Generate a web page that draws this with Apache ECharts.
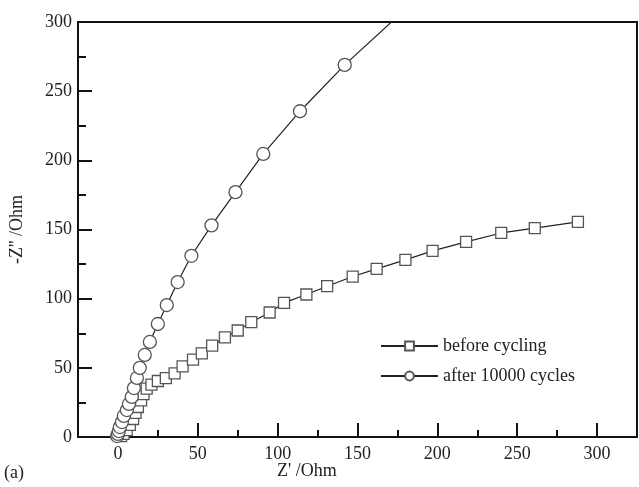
<!DOCTYPE html>
<html>
<head>
<meta charset="utf-8">
<script src="https://cdn.jsdelivr.net/npm/echarts@6/dist/echarts.min.js"></script>
<style>
  html, body { margin: 0; padding: 0; background: #fff; }
  #chart { width: 639px; height: 487px; }
</style>
</head>
<body>
<div id="chart"></div>
<script>
// before cycling (squares)
const beforeRe = [2, 3.5, 5.5, 7.5, 9.5, 11, 12.5, 14.5, 16, 18, 21, 25, 30, 35.5, 40.5, 47, 52.5, 59, 67, 75, 83.5, 95, 104, 118, 131, 147, 162, 180, 197, 218, 240, 261, 288]
const beforeIm = [0.7, 2.2, 5, 8.7, 13, 17.4, 21.7, 26.5, 31, 35, 37.8, 40.5, 42.5, 46, 51, 56, 60.5, 66, 72, 77, 83, 90, 97, 103, 109, 116, 121.5, 128, 134.5, 141, 147.5, 151, 155.5]

// after 10000 cycles (circles)
const afterRe = [-0.5, 0, 0.6, 1.2, 2.5, 3.7, 5.6, 6.9, 8.7, 10, 11.9, 13.7, 16.8, 20, 25, 30.6, 37.4, 46, 58.6, 73.6, 91, 114, 142, 176]
const afterIm = [0.7, 2.2, 4.3, 7.2, 10.8, 15.2, 19.5, 23.9, 29, 35.4, 42.7, 50, 59.3, 68.7, 81.7, 95.4, 112, 131, 153, 177, 204.6, 235.5, 269, 305]

const xMajor = [0, 50, 100, 150, 200, 250, 300]
const xMinor = [25, 75, 125, 175, 225, 275]
const yMajor = [0, 50, 100, 150, 200, 250, 300]
const yMinor = [25, 75, 125, 175, 225, 275]

const seriesNames = ['before cycling', 'after 10000 cycles']

const FONT = '"Liberation Serif", "DejaVu Serif", serif'
const pairs = (a, b) => a.map((v, i) => [v, b[i]])

const chart = echarts.init(document.getElementById('chart'))

const xBase = { type: 'value', min: -25, max: 325, gridIndex: 0, splitLine: { show: false } }
const yBase = { type: 'value', min: 0, max: 300, gridIndex: 0, splitLine: { show: false } }
const frameLine = { show: true, onZero: false, lineStyle: { color: '#111', width: 2 } }

chart.setOption({
  animation: false,
  backgroundColor: '#fff',
  grid: { left: 78, right: 2, top: 22, bottom: 50, outerBoundsMode: 'none' },
  legend: {
    orient: 'vertical',
    left: 375,
    top: 332,
    itemWidth: 57,
    itemHeight: 11,
    itemGap: 12,
    textStyle: { fontFamily: FONT, fontSize: 18, color: '#222' },
    data: seriesNames
  },
  xAxis: [
    Object.assign({}, xBase, {
      position: 'bottom',
      axisLine: frameLine,
      axisTick: { show: true, inside: true, length: 14, lineStyle: { color: '#111', width: 2 }, customValues: xMajor },
      axisLabel: { show: true, customValues: xMajor, margin: 8, fontFamily: FONT, fontSize: 18, color: '#222' }
    }),
    Object.assign({}, xBase, {
      position: 'bottom',
      axisLine: { show: false, onZero: false },
      axisTick: { show: true, inside: true, length: 7, lineStyle: { color: '#111', width: 2 }, customValues: xMinor },
      axisLabel: { show: false }
    }),
    Object.assign({}, xBase, {
      position: 'top',
      axisLine: frameLine,
      axisTick: { show: false },
      axisLabel: { show: false }
    })
  ],
  yAxis: [
    Object.assign({}, yBase, {
      position: 'left',
      name: '-Z\'\' /Ohm',
      nameLocation: 'middle',
      nameGap: 52,
      nameTextStyle: { fontFamily: FONT, fontSize: 18, color: '#222' },
      axisLine: frameLine,
      axisTick: { show: true, inside: true, length: 14, lineStyle: { color: '#111', width: 2 }, customValues: yMajor },
      axisLabel: { show: true, customValues: yMajor, margin: 6, fontFamily: FONT, fontSize: 18, color: '#222' }
    }),
    Object.assign({}, yBase, {
      position: 'left',
      axisLine: { show: false, onZero: false },
      axisTick: { show: true, inside: true, length: 8, lineStyle: { color: '#111', width: 2 }, customValues: yMinor },
      axisLabel: { show: false }
    }),
    Object.assign({}, yBase, {
      position: 'right',
      axisLine: frameLine,
      axisTick: { show: false },
      axisLabel: { show: false }
    })
  ],
  graphic: [
    { type: 'text', left: 277, top: 462, style: { text: 'Z\' /Ohm', font: '18px ' + FONT, fill: '#222' } },
    { type: 'text', left: 4, top: 464, style: { text: '(a)', font: '18px ' + FONT, fill: '#222' } }
  ],
  series: [
    {
      name: seriesNames[0],
      type: 'line',
      xAxisIndex: 0,
      yAxisIndex: 0,
      data: pairs(beforeRe, beforeIm),
      symbol: 'rect',
      symbolSize: 11,
      showAllSymbol: true,
      clip: true,
      lineStyle: { color: '#222', width: 1.2 },
      itemStyle: { color: '#fff', borderColor: '#555', borderWidth: 1.3 }
    },
    {
      name: seriesNames[1],
      type: 'line',
      xAxisIndex: 0,
      yAxisIndex: 0,
      data: pairs(afterRe, afterIm),
      symbol: 'circle',
      symbolSize: 13,
      showAllSymbol: true,
      clip: true,
      lineStyle: { color: '#222', width: 1.2 },
      itemStyle: { color: '#fff', borderColor: '#555', borderWidth: 1.3 }
    }
  ]
})
</script>
</body>
</html>
